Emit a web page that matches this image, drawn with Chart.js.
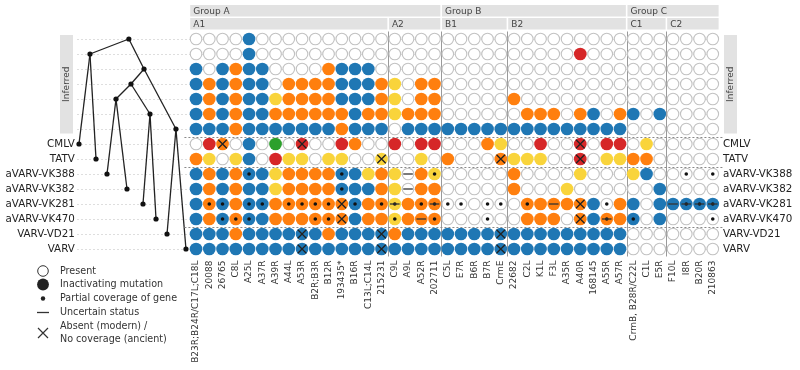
<!DOCTYPE html>
<html><head><meta charset="utf-8">
<script src="https://cdn.jsdelivr.net/npm/chart.js@4"></script>
<style>html,body{margin:0;padding:0;background:#fff}#wrap{width:800px;height:370px;position:relative}</style>
</head><body><div id="wrap"><canvas id="c" width="800" height="370"></canvas></div>
<script>
// ---------------- DATA ----------------
const genes = ["B23R;B24R/C17L;C18L","20088","26765","C8L","A25L","A37R","A39R","A44L","A53R","B2R;B3R","B12R","193435*","B16R","C13L;C14L","215231","C9L","A9L","A52R","202711","C5L","E7R","B6R","B7R","CrmE","22682","C2L","K1L","F3L","A35R","A40R","168145","A55R","A57R","CrmB, B28R/C22L","C1L","E5R","F10L","I8R","B20R","210863"];
const rowNames = ["","","","","","","","CMLV","TATV","aVARV-VK388","aVARV-VK382","aVARV-VK281","aVARV-VK470","VARV-VD21","VARV"];
const rowGroup = ["inferred","inferred","inferred","inferred","inferred","inferred","inferred","outgroup","outgroup","ancient","ancient","ancient","ancient","modern","modern"];
// gene state colour per row: W present, B/O/Y/R/G inactivating-mutation classes
const stateRows = [
 "WWWWBWWWWWWWWWW WWWW WWWWW WWWWWWWWW WWW WWWW",
 "WWWWBWWWWWWWWWW WWWW WWWWW WWWWWRWWW WWW WWWW",
 "BWBOBBWWWWOBBBW WWWW WWWWW WWWWWWWWW WWW WWWW",
 "BOBOBBWOOOOBBBO YWOO WWWWW WWWWWWWWW WWW WWWW",
 "BOBOBBYOOOOBBBO YWOO WWWWW OWWWWWWWW WWW WWWW",
 "BOBOBBOOOOOOBOO YOOO WWWWW WOOOWOBWO BWB WWWW",
 "BBBOBBBBBBBOBBB WBBB BBBBB BBBBBBBBB WWW WWWW",
 "WROWBWGWRWWROWW RWRR WWWOY WWRWWRWRR WYW WWWW",
 "OYWYBWRYYWYYWWY WWYW OWWWO YYYWWRWYY OOW WWWW",
 "BOBOBBYOOOOBBYO YWOY WWWWW OWWWWYWWW YBW WWWW",
 "BOBOBBYOOOOBBBO YWOO WWWWW OWWWYWWWW WWB WWWW",
 "BOBOBBOOOOOOBOO YOOO WWWWW WOOOOOBWO BWB BBBB",
 "BOBOBBOOOOOOBOO YOOO WWWWW WOOOWOBOO BWB WWWW",
 "BBBOBBBBBBOBBBB OBBB BBBBB BBBBBBBBB WWW WWWW",
 "BBBBBBBBBBBBBBB BBBB BBBBB BBBBBBBBB WWW WWWW"
];
// marker per cell: . none, d partial coverage, - uncertain, + partial & uncertain, x absent
const markRows = [
 "............... .... ..... ......... ... ....",
 "............... .... ..... ......... ... ....",
 "............... .... ..... ......... ... ....",
 "............... .... ..... ......... ... ....",
 "............... .... ..... ......... ... ....",
 "............... .... ..... ......... ... ....",
 "............... .... ..... ......... ... ....",
 "..x.....x...... .... ..... .....x... ... ....",
 "..............x .... ....x .....x... ... ....",
 "....d......d... .-.d ..... ......... ... .d.d",
 "...........d... .-.. ..... ......... ... ....",
 ".dd.dd.ddddxd.d +.d+ dd.dd .d.-.x.d. ... -+++",
 "..ddd....ddx... d.-d ...d. .....x.+. d.. ...d",
 "........x.....x .... ....x ......... ... ....",
 "........x.....x .... ....x ......... ... ...."
];
const groupNames = ["Group A","Group B","Group C"];
const groupFirst = [0,19,33];
const groupLast  = [18,32,39];
const subNames = ["A1","A2","B1","B2","C1","C2"];
const subFirst = [0,15,19,24,33,36];
const subLast  = [14,18,23,32,35,39];
// tree: node depth (arbitrary divergence units), row, parent
const treeDepth  = [8.1, 2.05, 10.46, 8.43, 6.1, 11.39, 15.43, 0.34, 2.99, 4.7, 7.81, 10.3, 12.33, 14.04, 16.99];
const treeRow    = [0, 1, 2, 3, 4, 5, 6, 7, 8, 9, 10, 11, 12, 13, 14];
const treeParent = [-1, 0, 0, 2, 3, 3, 2, 1, 1, 4, 4, 5, 5, 6, 6];
const legendLabels = ["Present","Inactivating mutation","Partial coverage of gene","Uncertain status",["Absent (modern) /","No coverage (ancient)"]];
const sideLabel = "Inferred";

// ---------------- STYLE ----------------
const FONT = '"DejaVu Sans", sans-serif';
const palette = {W:"#ffffff", B:"#1f77b4", O:"#ff7f0e", Y:"#f9d43b", R:"#d62728", G:"#2ca02c"};
Chart.defaults.font.family = FONT;

const states = stateRows.map(s => s.replace(/ /g,""));
const marks = markRows.map(s => s.replace(/ /g,""));

const datasets = [];
// markers on top
const dots=[], dashes=[], crosses=[];
marks.forEach((row,r)=>[...row].forEach((m,i)=>{
  if(m==="d"||m==="+") dots.push({x:i,y:r});
  if(m==="-"||m==="+") dashes.push({x:i,y:r});
  if(m==="x") crosses.push({x:i,y:r});
}));
datasets.push({data:crosses, pointStyle:"crossRot", pointRadius:6, pointBorderColor:"#222", pointBorderWidth:1.3, order:0, clip:false});
datasets.push({data:dashes, pointStyle:"line", pointRadius:4.8, pointBorderColor:"#333", pointBorderWidth:1.3, order:0, clip:false});
datasets.push({data:dots, pointStyle:"circle", pointRadius:1.8, pointBackgroundColor:"#111", pointBorderWidth:0, order:0, clip:false});
Object.keys(palette).forEach(k=>{
  const pts=[];
  states.forEach((row,r)=>[...row].forEach((c,i)=>{ if(c===k) pts.push({x:i,y:r}); }));
  datasets.push({data:pts, pointStyle:"circle",
    pointRadius: k==="W"?5.8:6.35,
    pointBackgroundColor:palette[k],
    pointBorderColor: k==="W"?"#c2c2c2":palette[k],
    pointBorderWidth: k==="W"?1.1:0, order:5, clip:false});
});
// tree
treeParent.forEach((p,i)=>{
  if(p<0) return;
  datasets.push({data:[{x:treeDepth[p],y:treeRow[p]},{x:treeDepth[i],y:treeRow[i]}],
    xAxisID:"xt", showLine:true, borderColor:"#222", borderWidth:1.3, pointRadius:0, order:10, clip:false});
});
datasets.push({data:treeDepth.map((d,i)=>({x:d,y:treeRow[i]})), xAxisID:"xt",
  pointRadius:2.6, pointBackgroundColor:"#111", pointBorderWidth:0, order:9, clip:false});

const deco = {
  id:"deco",
  beforeDatasetsDraw(chart){
    const {ctx, chartArea:a, scales:{x,y}} = chart;
    ctx.save();
    ctx.strokeStyle="#9a9a9a"; ctx.lineWidth=1;
    subFirst.slice(1).forEach(s=>{
      const px=Math.round(x.getPixelForValue(s-0.5))+0.5;
      ctx.beginPath(); ctx.moveTo(px,a.top); ctx.lineTo(px,a.bottom); ctx.stroke();
    });
    ctx.restore();
  },
  afterDatasetsDraw(chart){
    const {ctx, scales:{x,y}} = chart;
    ctx.save();
    ctx.strokeStyle="#8a8a8a"; ctx.lineWidth=1; ctx.setLineDash([2,2]);
    for(let r=1;r<rowGroup.length;r++){
      if(rowGroup[r]!==rowGroup[r-1]){
        const py=Math.round(y.getPixelForValue(r-0.5))+0.5;
        ctx.beginPath(); ctx.moveTo(x.getPixelForValue(-0.5)-5,py); ctx.lineTo(x.getPixelForValue(39.5)+3,py); ctx.stroke();
      }
    }
    ctx.restore();
  },
  afterDraw(chart){
    const {ctx, chartArea:a, scales:{x,y}} = chart;
    ctx.save();
    // header bands
    const band=(names,first,last,top,h)=>{
      names.forEach((n,i)=>{
        const l=x.getPixelForValue(first[i]-0.5)+0.8, r=x.getPixelForValue(last[i]+0.5)-0.8;
        ctx.fillStyle="#e2e2e2"; ctx.fillRect(l,top,r-l,h);
        ctx.fillStyle="#444"; ctx.font='9px '+FONT; ctx.textBaseline="middle"; ctx.textAlign="left";
        ctx.fillText(n,l+3,top+h/2+0.5);
      });
    };
    band(groupNames,groupFirst,groupLast,5,11.5);
    band(subNames,subFirst,subLast,18,11.5);
    // Inferred side boxes
    const infTop=y.getPixelForValue(-0.5)+3.5, infBot=y.getPixelForValue(6.5)-3;
    [[60,13],[724,13]].forEach(([bx,bw])=>{
      ctx.fillStyle="#e2e2e2"; ctx.fillRect(bx,infTop,bw,infBot-infTop);
      ctx.save(); ctx.translate(bx+bw/2+0.5,(infTop+infBot)/2); ctx.rotate(-Math.PI/2);
      ctx.fillStyle="#444"; ctx.font='9px '+FONT; ctx.textAlign="center"; ctx.textBaseline="middle";
      ctx.fillText(sideLabel,0,0); ctx.restore();
    });
    // legend
    const lx=43, tx=60, ys=[271,284.5,298.5,312.5,333];
    ctx.font='9.6px '+FONT; ctx.textBaseline="middle"; ctx.textAlign="left"; ctx.fillStyle="#333";
    ctx.strokeStyle="#333"; ctx.lineWidth=1;
    ctx.beginPath(); ctx.arc(lx,ys[0],5.3,0,Math.PI*2); ctx.fillStyle="#fff"; ctx.fill(); ctx.stroke();
    ctx.fillStyle="#222"; ctx.beginPath(); ctx.arc(lx,ys[1],5.9,0,Math.PI*2); ctx.fill();
    ctx.beginPath(); ctx.arc(lx,ys[2],2.2,0,Math.PI*2); ctx.fill();
    ctx.lineWidth=1.3; ctx.beginPath(); ctx.moveTo(lx-6,ys[3]); ctx.lineTo(lx+6,ys[3]); ctx.stroke();
    ctx.lineWidth=1.2; ctx.beginPath(); ctx.moveTo(lx-5,ys[4]-5); ctx.lineTo(lx+5,ys[4]+5); ctx.moveTo(lx+5,ys[4]-5); ctx.lineTo(lx-5,ys[4]+5); ctx.stroke();
    ctx.fillStyle="#333";
    legendLabels.forEach((t,i)=>{
      if(Array.isArray(t)){ ctx.fillText(t[0],tx,ys[i]-6.3); ctx.fillText(t[1],tx,ys[i]+6.3); }
      else ctx.fillText(t,tx,ys[i]);
    });
    ctx.restore();
  }
};

const yTicks = s => { s.ticks = rowNames.map((_,i)=>({value:i})); };
new Chart(document.getElementById("c"), {
  type:"scatter",
  data:{datasets},
  options:{
    responsive:false, animation:false, events:[],
    layout:{padding:{top:31.5,left:0,right:0,bottom:0}},
    plugins:{legend:{display:false}, tooltip:{enabled:false}},
    scales:{
      x:{type:"linear", min:-9, max:39.5, position:"bottom",
        afterBuildTicks:s=>{ s.ticks = genes.map((_,i)=>({value:i})); },
        afterFit:s=>{ s.height = 113.5; },
        ticks:{autoSkip:false, maxRotation:90, minRotation:90, padding:4, color:"#333", font:{size:9, family:FONT},
          callback:v=>genes[v]},
        grid:{display:false, drawTicks:false}, border:{display:false}},
      xt:{type:"linear", min:0, max:100, display:false},
      y:{type:"linear", min:-0.5, max:14.5, reverse:true, position:"left",
        afterBuildTicks:yTicks, afterFit:s=>{ s.width = 76.8; },
        ticks:{autoSkip:false, padding:2, color:"#222", font:{size:10.3, family:FONT}, callback:v=>rowNames[v]},
        grid:{color:"#d6d6d6", lineWidth:0.8, drawTicks:false}, border:{display:false, dash:[2,2]}},
      y2:{type:"linear", min:-0.5, max:14.5, reverse:true, position:"right",
        afterBuildTicks:yTicks, afterFit:s=>{ s.width = 80.6; },
        ticks:{autoSkip:false, padding:3.5, color:"#222", font:{size:10.3, family:FONT}, callback:v=>rowNames[v]},
        grid:{display:false, drawTicks:false}, border:{display:false}}
    }
  },
  plugins:[deco]
});
</script></body></html>
